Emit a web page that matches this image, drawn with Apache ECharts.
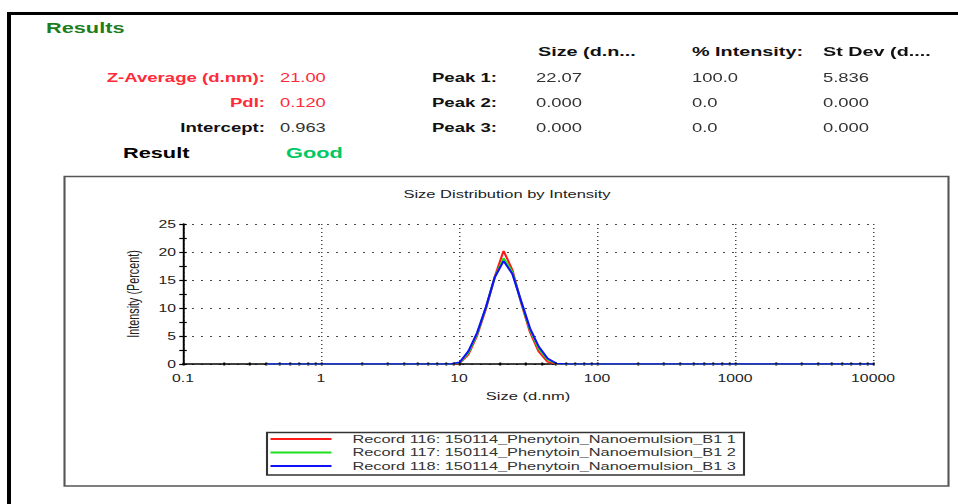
<!DOCTYPE html>
<html>
<head>
<meta charset="utf-8">
<script src="https://cdn.jsdelivr.net/npm/echarts@6/dist/echarts.min.js"></script>
<style>
  html, body { margin: 0; padding: 0; background: #fff; overflow: hidden; }
  #main { height: 504px; transform-origin: 0 0; }
</style>
</head>
<body>
<div id="main"></div>
<script>
// Size classes (d.nm) of the intensity distribution
const sizeClasses = [
  0.4, 0.4632, 0.5365, 0.6213, 0.7195, 0.8332, 0.9649, 1.117, 1.294, 1.499,
  1.736, 2.010, 2.328, 2.696, 3.122, 3.615, 4.187, 4.849, 5.615, 6.503,
  7.531, 8.721, 10.10, 11.70, 13.54, 15.69, 18.17, 21.04, 24.36, 28.21,
  32.67, 37.84, 43.82, 50.75, 58.77, 68.06, 78.82, 91.28, 105.7, 122.4,
  141.8, 164.2, 190.1, 220.2, 255.0, 295.3, 342.0, 396.1, 458.7, 531.2,
  615.1, 712.4, 825.0, 955.4, 1106, 1281, 1484, 1718, 1990, 2305,
  2669, 3091, 3580, 4145, 4801, 5560, 6439, 7456, 8635, 10000
];

// Intensity (%) per size class for each record
const record116 = [
  0, 0, 0, 0, 0, 0, 0, 0, 0, 0,
  0, 0, 0, 0, 0, 0, 0, 0, 0, 0,
  0, 0, 0.1, 1.7, 5.1, 9.9, 15.6, 20.2, 16.8, 10.9,
  5.7, 2.2, 0.4, 0, 0, 0, 0, 0, 0, 0,
  0, 0, 0, 0, 0, 0, 0, 0, 0, 0,
  0, 0, 0, 0, 0, 0, 0, 0, 0, 0,
  0, 0, 0, 0, 0, 0, 0, 0, 0, 0
];
const record117 = [
  0, 0, 0, 0, 0, 0, 0, 0, 0, 0,
  0, 0, 0, 0, 0, 0, 0, 0, 0, 0,
  0, 0, 0.2, 2.0, 5.4, 10.1, 15.5, 18.9, 16.4, 11.1,
  6.1, 2.7, 0.8, 0.05, 0, 0, 0, 0, 0, 0,
  0, 0, 0, 0, 0, 0, 0, 0, 0, 0,
  0, 0, 0, 0, 0, 0, 0, 0, 0, 0,
  0, 0, 0, 0, 0, 0, 0, 0, 0, 0
];
const record118 = [
  0, 0, 0, 0, 0, 0, 0, 0, 0, 0,
  0, 0, 0, 0, 0, 0, 0, 0, 0, 0,
  0, 0, 0.3, 2.3, 5.6, 10.2, 15.5, 18.4, 16.1, 11.2,
  6.4, 3.1, 1.0, 0.1, 0, 0, 0, 0, 0, 0,
  0, 0, 0, 0, 0, 0, 0, 0, 0, 0,
  0, 0, 0, 0, 0, 0, 0, 0, 0, 0,
  0, 0, 0, 0, 0, 0, 0, 0, 0, 0
];
const recordNames = [
  'Record 116: 150114_Phenytoin_Nanoemulsion_B1 1',
  'Record 117: 150114_Phenytoin_Nanoemulsion_B1 2',
  'Record 118: 150114_Phenytoin_Nanoemulsion_B1 3'
];

// Axis ticks
const sizeTicks = [0.1, 1, 10, 100, 1000, 10000];
const intensityTicks = [0, 5, 10, 15, 20, 25];

// Results summary
const summaryLabels = ['Z-Average (d.nm):', 'PdI:', 'Intercept:'];
const summaryValues = ['21.00', '0.120', '0.963'];
const peakLabels = ['Peak 1:', 'Peak 2:', 'Peak 3:'];
const peakColumns = ['Size (d.n...', '% Intensity:', 'St Dev (d....'];
const peakSize = ['22.07', '0.000', '0.000'];
const peakIntensity = ['100.0', '0.0', '0.0'];
const peakStDev = ['5.836', '0.000', '0.000'];
const resultQuality = 'Good';

// The report is rendered on a narrower canvas and widened horizontally.
const SX = 1.5;
const hx = x => x / SX;
const W = 958 / SX;
const FONT = '"Liberation Sans", Arial, sans-serif';

const el = document.getElementById('main');
el.style.width = W + 'px';
el.style.transform = 'scaleX(' + SX + ')';
const chart = echarts.init(el, null, { renderer: 'svg', width: W, height: 504 });

function label(text, x, y, size, weight, color, align) {
  return {
    type: 'text', x: x, y: y, silent: true,
    style: {
      text: text, fill: color, align: align || 'left', verticalAlign: 'middle',
      textAlign: align || 'left', textVerticalAlign: 'middle',
      font: weight + ' ' + size + 'px ' + FONT
    }
  };
}

const RED = '#ff2a3a';
const rowY = [78, 103, 128];
const graphics = [
  // report frame
  { type: 'rect', shape: { x: hx(7), y: 12, width: hx(951), height: 3 }, style: { fill: '#000' }, silent: true },
  { type: 'rect', shape: { x: hx(7), y: 12, width: hx(4), height: 492 }, style: { fill: '#000' }, silent: true },
  // chart frame
  { type: 'rect', shape: { x: hx(64.5), y: 176.5, width: hx(884), height: 309.5 },
    style: { fill: 'none', stroke: '#555', lineWidth: 1.4 }, silent: true, z: 0 },
  // legend frame
  { type: 'rect', shape: { x: hx(267), y: 432.5, width: hx(477), height: 42.5 },
    style: { fill: 'none', stroke: '#333', lineWidth: 1.4 }, silent: true },
  label('Results', hx(46), 28, 14.5, 'bold', '#1d7d1d'),
  label('Result', hx(123), 153, 14.5, 'bold', '#000'),
  label(resultQuality, hx(286), 153, 14.5, 'bold', '#00c864')
];
summaryLabels.forEach((t, i) => {
  const c = i < 2 ? RED : '#111';
  graphics.push(label(t, hx(265), rowY[i], 12.4, 'bold', c, 'right'));
  graphics.push(label(summaryValues[i], hx(280), rowY[i], 12.2, 'normal', i < 2 ? RED : '#333'));
});
const colX = [538, 692, 823];
peakColumns.forEach((t, i) => graphics.push(label(t, hx(colX[i]), 52, 13.2, 'bold', '#111')));
peakLabels.forEach((t, i) => {
  graphics.push(label(t, hx(497), rowY[i], 12.4, 'bold', '#111', 'right'));
  graphics.push(label(peakSize[i], hx(536), rowY[i] - 0.5, 12.3, 'normal', '#333'));
  graphics.push(label(peakIntensity[i], hx(692), rowY[i] - 0.5, 12.3, 'normal', '#333'));
  graphics.push(label(peakStDev[i], hx(823), rowY[i] - 0.5, 12.3, 'normal', '#333'));
});

const records = [record116, record117, record118];
const colors = ['#ff1a1a', '#1ee01e', '#1010ff'];

const dotted = { color: '#444', width: 1, type: [1.3, 4.7] };

const option = {
  animation: false,
  backgroundColor: '#fff',
  textStyle: { fontFamily: FONT },
  title: {
    text: 'Size Distribution by Intensity',
    left: hx(507), top: 189, textAlign: 'center', padding: 0,
    textStyle: { fontSize: 11, fontWeight: 'normal', color: '#222', fontFamily: FONT }
  },
  legend: {
    data: recordNames,
    orient: 'vertical',
    left: hx(269), top: 433,
    padding: 0,
    itemWidth: hx(61), itemHeight: 12, itemGap: 1.5,
    itemStyle: { opacity: 0 },
    textStyle: { fontSize: 10.9, color: '#333', fontFamily: FONT, lineHeight: 12, padding: [0, 0, 0, 9] },
    selectedMode: false
  },
  grid: { left: hx(183), top: 224, width: hx(690), height: 140, containLabel: false },
  xAxis: [
    {
      type: 'log', logBase: 10,
      min: sizeTicks[0], max: sizeTicks[sizeTicks.length - 1],
      name: 'Size (d.nm)', nameLocation: 'middle', nameGap: 27,
      nameTextStyle: { fontSize: 11, color: '#222', fontFamily: FONT },
      axisLine: { lineStyle: { color: '#000', width: 1.5 } },
      axisTick: { show: true, length: 1.5, lineStyle: { color: '#000', width: 1.3 } },
      minorTick: { show: true, splitNumber: 9, length: 1.5, lineStyle: { color: '#000', width: 1.3 } },
      axisLabel: { margin: 9, fontSize: 10.5, color: '#222', fontFamily: FONT, formatter: v => String(v) },
      splitLine: { show: true, lineStyle: { color: '#444', width: 1, type: [1, 3] } }
    },
    {
      // tick marks drawn above the curves
      type: 'log', logBase: 10, position: 'bottom', z: 10,
      min: sizeTicks[0], max: sizeTicks[sizeTicks.length - 1],
      axisLine: { show: false },
      axisTick: { show: true, inside: true, length: 1.5, lineStyle: { color: '#000', width: 1.3 } },
      minorTick: { show: true, splitNumber: 9, length: 1.5, lineStyle: { color: '#000', width: 1.3 } },
      axisLabel: { show: false },
      splitLine: { show: false }
    }
  ],
  yAxis: [
    {
      type: 'value', position: 'left',
      min: intensityTicks[0], max: intensityTicks[intensityTicks.length - 1],
      interval: intensityTicks[1] - intensityTicks[0],
      name: 'Intensity (Percent)', nameLocation: 'middle', nameGap: 20,
      nameTextStyle: { fontSize: 10.8, color: '#222', fontFamily: FONT },
      axisLine: { show: true, onZero: false, lineStyle: { color: '#000', width: 1.3 } },
      axisTick: { show: true, length: 2.5, lineStyle: { color: '#000', width: 1.2 } },
      minorTick: { show: true, splitNumber: 2, length: 2.5, lineStyle: { color: '#000', width: 1.2 } },
      axisLabel: { margin: 4.7, fontSize: 10.5, color: '#222', fontFamily: FONT },
      splitLine: { show: true, lineStyle: dotted }
    },
    {
      type: 'value', position: 'left',
      min: intensityTicks[0], max: intensityTicks[intensityTicks.length - 1],
      interval: intensityTicks[1] - intensityTicks[0],
      axisLine: { show: false, onZero: false },
      axisTick: { show: true, inside: true, length: 2.5, lineStyle: { color: '#000', width: 1.2 } },
      minorTick: { show: true, splitNumber: 2, length: 2.5, lineStyle: { color: '#000', width: 1.2 } },
      axisLabel: { show: false },
      splitLine: { show: false }
    }
  ],
  series: records.map((rec, i) => ({
    name: recordNames[i],
    type: 'line',
    xAxisIndex: 0, yAxisIndex: 0,
    data: sizeClasses.map((s, k) => [s, rec[k]]),
    symbol: 'none', showSymbol: false,
    color: colors[i],
    lineStyle: { color: colors[i], width: 1.5 },
    z: 3 + i
  })),
  graphic: graphics
};

chart.setOption(option);
</script>
</body>
</html>
